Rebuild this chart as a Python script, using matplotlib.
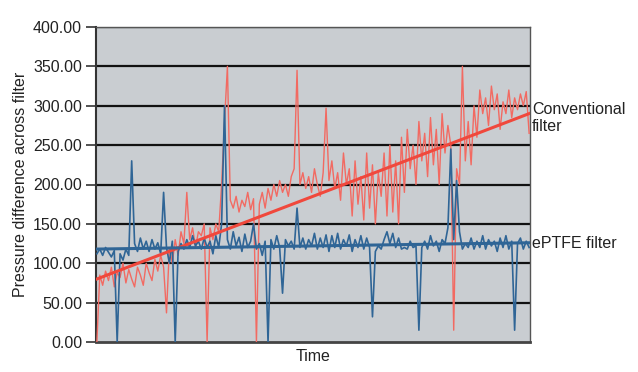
import numpy as np
import matplotlib.pyplot as plt

plt.rcParams['font.family'] = ['Liberation Sans', 'DejaVu Sans']

# Data (arbitrary time index)
eptfe = [112, 118, 110, 120, 114, 108, 116, 0, 112, 104, 118, 110, 230, 125, 115, 132, 118, 128, 115, 130,
         118, 126, 112, 190, 120, 100, 128, 0, 115, 125, 118, 130, 120, 135, 122, 128, 118, 132, 120, 128,
         112, 135, 120, 150, 300, 130, 118, 140, 122, 133, 115, 137, 120, 128, 150, 118, 125, 110, 128, 0,
         130, 118, 135, 120, 62, 130, 122, 128, 118, 170, 120, 132, 118, 130, 122, 138, 118, 132, 120, 136,
         115, 135, 120, 138, 118, 130, 122, 136, 115, 130, 120, 135, 118, 132, 120, 32, 115, 122, 118, 130,
         140, 125, 138, 120, 132, 118, 120, 118, 128, 120, 122, 15, 120, 128, 118, 135, 122, 128, 115, 130,
         125, 145, 245, 130, 205, 140, 118, 125, 120, 132, 118, 128, 120, 135, 118, 130, 122, 128, 115, 132,
         120, 135, 118, 128, 15, 125, 132, 118, 128, 120]

conventional = [0, 85, 72, 90, 78, 95, 70, 88, 82, 100, 75, 92, 80, 70, 95, 85, 72, 100, 88, 78,
                105, 90, 110, 95, 37, 120, 100, 130, 110, 140, 125, 190, 130, 145, 120, 140, 135, 150, 0, 145,
                130, 150, 140, 200, 280, 350, 180, 170, 185, 165, 180, 172, 190, 168, 182, 0, 175, 190, 170, 195,
                180, 200, 185, 205, 190, 200, 185, 210, 220, 345, 200, 215, 195, 210, 190, 220, 200, 185, 215, 297,
                205, 230, 195, 215, 180, 240, 200, 220, 160, 230, 175, 210, 155, 240, 170, 225, 150, 215, 185, 240,
                160, 250, 165, 230, 150, 260, 190, 270, 220, 250, 200, 280, 230, 265, 210, 285, 225, 270, 200, 290,
                240, 275, 250, 15, 220, 200, 350, 230, 280, 225, 300, 260, 320, 290, 310, 275, 325, 295, 315, 270,
                305, 290, 320, 285, 310, 295, 315, 300, 318, 265]

# trend line end values
conv_trend = [80, 290]
eptfe_trend = [118, 126]

yticks = [0, 50, 100, 150, 200, 250, 300, 350, 400]

fig = plt.figure(figsize=(6.38, 3.72), dpi=100)
ax = fig.add_axes([96 / 638, 1 - 342 / 372, 434 / 638, 315 / 372])
ax.set_facecolor('#c9cdd1')

x = np.arange(len(conventional))
ax.plot(x, conventional, color='#f26a62', linewidth=1.0, zorder=3)
ax.plot(x, eptfe, color='#2f6596', linewidth=1.2, zorder=4)
ax.plot([x[0], x[-1]], conv_trend, color='#f0483c', linewidth=2.2, zorder=5)
ax.plot([x[0], x[-1]], eptfe_trend, color='#2f6596', linewidth=2.2, zorder=5)

ax.set_xlim(-0.3, len(conventional) - 0.7)
ax.set_ylim(0, 400)
ax.set_yticks(yticks)
ax.set_yticklabels(['%.2f' % v for v in yticks], fontsize=11.5, color='#222222')
ax.set_xticks([])
ax.tick_params(axis='y', length=7, width=1.2, color='#333333', pad=3)
for v in yticks[1:]:
    ax.axhline(v, color='#111111', linewidth=1.6, zorder=2)

for side in ['top', 'right']:
    ax.spines[side].set_color('#555555')
    ax.spines[side].set_linewidth(1.0)
ax.spines['left'].set_color('#333333')
ax.spines['left'].set_linewidth(1.5)
ax.spines['bottom'].set_color('#444444')
ax.spines['bottom'].set_linewidth(2.0)

ax.set_ylabel('Pressure difference across filter', fontsize=11.5, color='#222222', labelpad=4)
ax.set_xlabel('Time', fontsize=11.5, color='#222222', labelpad=5)

ax.annotate('Conventional\nfilter', xy=(1.005, 300 / 400 - 0.04), xycoords='axes fraction',
            fontsize=11.5, va='center', ha='left', color='#222222', linespacing=1.15)
ax.annotate('ePTFE filter', xy=(1.005, 125 / 400), xycoords='axes fraction',
            fontsize=11.5, va='center', ha='left', color='#222222')

fig.savefig('out.png', dpi=100)
